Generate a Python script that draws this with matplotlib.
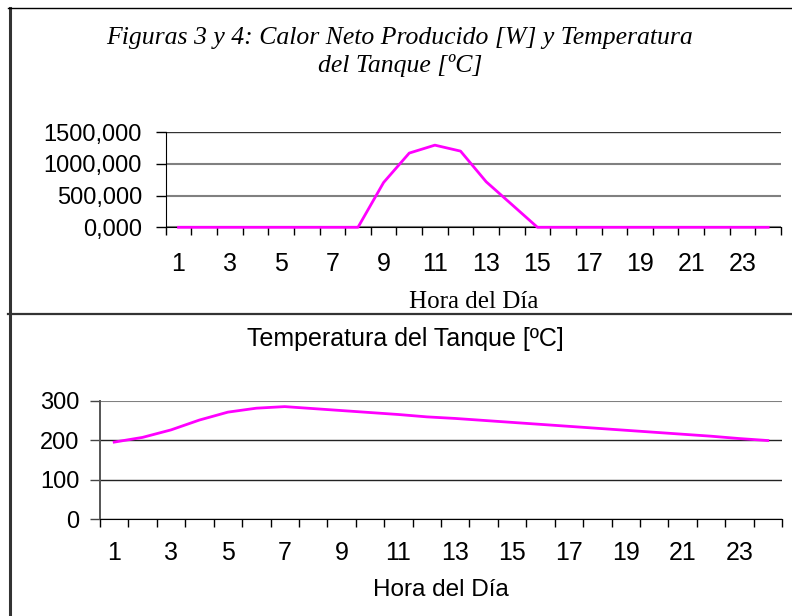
import numpy as np
import matplotlib.pyplot as plt
from matplotlib.lines import Line2D

# data
horas = np.arange(1, 25)
calor_neto = [0, 0, 0, 0, 0, 0, 0, 0, 708, 1172, 1297, 1203, 719, 360, 0,
              0, 0, 0, 0, 0, 0, 0, 0, 0]
temp_tanque = [195, 207, 226, 251, 271, 281, 285, 280, 275, 270, 265, 259,
               255, 250, 245, 240, 235, 230, 225, 220, 215, 210, 204, 199]
etiquetas_x = [str(h) for h in range(1, 24, 2)]
yticks_calor = [0, 500, 1000, 1500]
yticks_temp = [0, 100, 200, 300]

W, H = 792, 616
SANS = ['Liberation Sans', 'DejaVu Sans']
SERIF = ['Liberation Serif', 'DejaVu Serif']
MAG = '#FF00FF'

fig = plt.figure(figsize=(W / 100, H / 100), dpi=100)


def fx(px):
    return px / W


def fy(py):
    return 1 - py / H


# frame lines of the two panels
fig.add_artist(Line2D([fx(9.5), fx(9.5)], [fy(7.5), fy(H)], color='#333333', lw=2.2))
fig.add_artist(Line2D([fx(8), fx(W)], [fy(7.8), fy(7.8)], color='black', lw=1.0))
fig.add_artist(Line2D([fx(8), fx(W)], [fy(314.3), fy(314.3)], color='#333333', lw=1.6))


def category_axis(ax, tick_size, pad):
    ax.set_xlim(0.5, 24.5)
    ax.set_xticks(np.arange(0.5, 25, 1))
    ax.set_xticklabels([])
    ax.set_xticks(range(1, 24, 2), minor=True)
    ax.set_xticklabels(etiquetas_x, minor=True, family=SANS, fontsize=tick_size)
    ax.tick_params(axis='x', which='major', direction='out', length=5.5, width=1.0)
    ax.tick_params(axis='x', which='minor', length=0, pad=pad)
    for s in ['top', 'right']:
        ax.spines[s].set_visible(False)


# --- top panel: calor neto producido
ax1 = fig.add_axes([fx(165.7), fy(227.3), fx(781 - 165.7), (227.3 - 132.3) / H])
ax1.plot(horas, calor_neto, color=MAG, lw=2.0, clip_on=False, zorder=3)
ax1.set_ylim(0, 1500)
ax1.set_yticks(yticks_calor)
ax1.set_yticklabels([f'{v},000' for v in yticks_calor], family=SANS, fontsize=17)
ax1.tick_params(axis='y', direction='out', length=7, width=1.0, pad=10)
category_axis(ax1, 18, 18)
ax1.grid(axis='y', lw=1.5)
for v, gl in zip(yticks_calor, ax1.get_ygridlines()):
    if v == 1500:
        gl.set_color('#333333')
        gl.set_linewidth(1.0)
    else:
        gl.set_color('#808080')
ax1.set_axisbelow(True)
ax1.set_xlabel('Hora del Día', family=SERIF, fontsize=18, va='center')
ax1.xaxis.set_label_coords(0.5, -(302 - 227.3) / 95)

fig.text(fx(400), fy(52), 'Figuras 3 y 4: Calor Neto Producido [W] y Temperatura\ndel Tanque [ºC]',
         ha='center', va='center', family=SERIF, style='italic', fontsize=18.5, linespacing=1.3)

# --- bottom panel: temperatura del tanque
ax2 = fig.add_axes([fx(100), fy(519), fx(782 - 100), (519 - 400.7) / H])
ax2.plot(horas, temp_tanque, color=MAG, lw=2.0, zorder=3)
ax2.set_ylim(0, 300)
ax2.set_yticks(yticks_temp)
ax2.set_yticklabels([str(v) for v in yticks_temp], family=SANS, fontsize=17)
ax2.tick_params(axis='y', direction='out', length=7, width=1.0, pad=8, colors='#444444',
                labelcolor='black')
ax2.spines['left'].set_color('#555555')
ax2.spines['left'].set_linewidth(1.4)
category_axis(ax2, 18, 16)
ax2.grid(axis='y', lw=1.0)
for v, gl in zip(yticks_temp, ax2.get_ygridlines()):
    if v == 300:
        gl.set_color('#808080')
        gl.set_linewidth(1.5)
    else:
        gl.set_color('#222222')
ax2.set_axisbelow(True)
ax2.set_xlabel('Hora del Día', family=SANS, fontsize=17.5, va='center')
ax2.xaxis.set_label_coords(0.5, -(590 - 519) / 118.3)

fig.text(fx(405), fy(339), 'Temperatura del Tanque [ºC]', ha='center', va='center',
         family=SANS, fontsize=18)

fig.savefig('out.png', dpi=100)
